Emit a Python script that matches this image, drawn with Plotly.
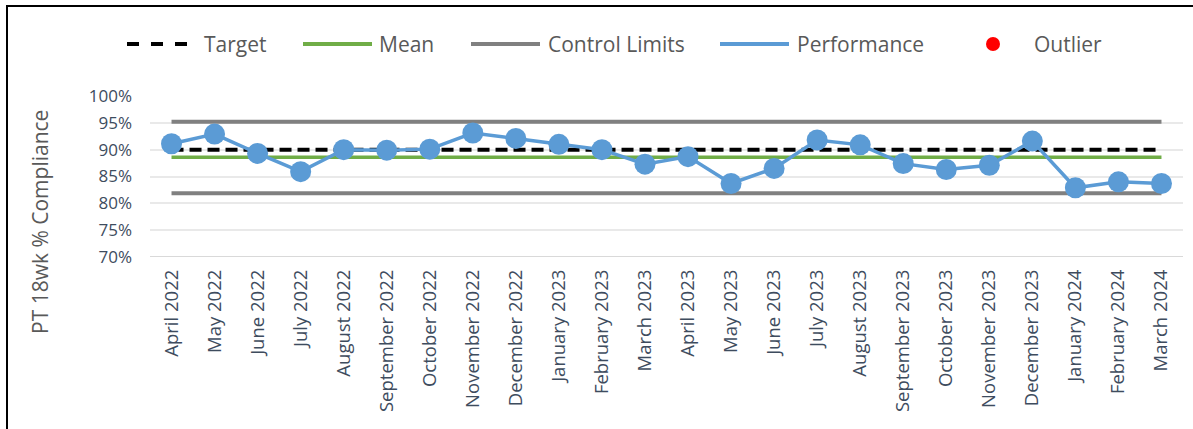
import plotly.graph_objects as go

# Monthly PT 18-week compliance (%)
months = [
    "April 2022", "May 2022", "June 2022", "July 2022", "August 2022",
    "September 2022", "October 2022", "November 2022", "December 2022",
    "January 2023", "February 2023", "March 2023", "April 2023", "May 2023",
    "June 2023", "July 2023", "August 2023", "September 2023", "October 2023",
    "November 2023", "December 2023", "January 2024", "February 2024", "March 2024",
]
performance = [
    91.1, 92.9, 89.3, 85.9, 90.0, 89.9, 90.1, 93.1, 92.1, 91.0, 90.0, 87.3,
    88.7, 83.7, 86.5, 91.8, 90.9, 87.4, 86.3, 87.1, 91.6, 82.9, 84.0, 83.7,
]
target = 90.0
mean = 88.6
upper_limit = 95.2
lower_limit = 81.9
outlier_months = []
outlier_values = []

y_ticks = [70, 75, 80, 85, 90, 95, 100]
y_tick_text = [f"{v}%" for v in y_ticks]

# Colours
C_TARGET = "#000000"
C_MEAN = "#70AD47"
C_LIMIT = "#808080"
C_PERF = "#5B9BD5"
C_OUT = "#FF0000"
C_TEXT = "#3E4C5E"
C_LEGEND = "#595959"
FONT = "Open Sans"

W, H = 1193, 429
L, R, T, B = 150, 10, 96, 172
PW, PH = W - L - R, H - T - B


def px(x):
    return (x - L) / PW


def py(y):
    return (H - B - y) / PH


fig = go.Figure()
n = len(months)
fig.add_trace(go.Scatter(x=months, y=[upper_limit] * n, mode="lines",
                         line=dict(color=C_LIMIT, width=4), showlegend=False, hoverinfo="skip"))
fig.add_trace(go.Scatter(x=months, y=[lower_limit] * n, mode="lines",
                         line=dict(color=C_LIMIT, width=4), showlegend=False, hoverinfo="skip"))
fig.add_trace(go.Scatter(x=months, y=[mean] * n, mode="lines",
                         line=dict(color=C_MEAN, width=3.5), showlegend=False, hoverinfo="skip"))
fig.add_trace(go.Scatter(x=months, y=[target] * n, mode="lines",
                         line=dict(color=C_TARGET, width=4, dash="12px,6px"),
                         showlegend=False, hoverinfo="skip"))
fig.add_trace(go.Scatter(x=months, y=performance, mode="lines+markers",
                         line=dict(color=C_PERF, width=3.5),
                         marker=dict(color=C_PERF, size=21),
                         showlegend=False))
fig.add_trace(go.Scatter(x=outlier_months, y=outlier_values, mode="markers",
                         marker=dict(color=C_OUT, size=21), showlegend=False))

# Legend row drawn along the top of the chart
legend_y = 44
legend_items = [
    ("Target", dict(color=C_TARGET, width=4, dash="dash"), 127, 197, 202),
    ("Mean", dict(color=C_MEAN, width=4), 303, 372, 377),
    ("Control Limits", dict(color=C_LIMIT, width=4), 471, 540, 546),
    ("Performance", dict(color=C_PERF, width=4), 720, 789, 795),
]
shapes = []
annotations = []
for label, line, x0, x1, tx in legend_items:
    shapes.append(dict(type="line", xref="paper", yref="paper",
                       x0=px(x0), x1=px(x1), y0=py(legend_y), y1=py(legend_y), line=line))
    annotations.append(dict(text=label, xref="paper", yref="paper", x=px(tx), y=py(legend_y),
                            xanchor="left", yanchor="middle", showarrow=False,
                            font=dict(family=FONT, size=21, color=C_LEGEND)))
shapes.append(dict(type="circle", xref="paper", yref="paper",
                   x0=px(986), x1=px(1000), y0=py(legend_y - 7), y1=py(legend_y + 7),
                   fillcolor=C_OUT, line=dict(width=0)))
annotations.append(dict(text="Outlier", xref="paper", yref="paper", x=px(1032), y=py(legend_y),
                        xanchor="left", yanchor="middle", showarrow=False,
                        font=dict(family=FONT, size=21, color=C_LEGEND)))

# Y-axis title
annotations.append(dict(text="PT 18wk % Compliance", xref="paper", yref="paper",
                        x=px(40), y=py(222), xanchor="center", yanchor="middle",
                        textangle=-90, showarrow=False,
                        font=dict(family=FONT, size=21, color=C_LEGEND)))

# Chart frame
shapes.append(dict(type="rect", xref="paper", yref="paper",
                   x0=px(7), x1=px(1215), y0=py(6), y1=py(450),
                   line=dict(color="#000000", width=2), fillcolor="rgba(0,0,0,0)", layer="below"))

fig.update_layout(
    width=W, height=H,
    margin=dict(l=L, r=R, t=T, b=B),
    paper_bgcolor="white", plot_bgcolor="white",
    font=dict(family=FONT, color=C_TEXT),
    shapes=shapes, annotations=annotations,
    showlegend=False,
)
fig.update_xaxes(
    type="category", range=[-0.5, n - 0.5],
    tickangle=-90, tickfont=dict(size=18.5, color=C_TEXT),
    showgrid=False, showline=False, zeroline=False, ticks="", ticklabelstandoff=8,
)
fig.update_yaxes(
    range=[70, 100], tickvals=y_ticks, ticktext=y_tick_text,
    tickfont=dict(size=17, color=C_TEXT),
    showgrid=True, gridcolor="#E9E9E9", gridwidth=1.5,
    zeroline=False, showline=False, ticks="", ticklabelstandoff=17,
)
# darker baseline along the bottom gridline
fig.add_hline(y=70, line=dict(color="#D9D9D9", width=2), layer="below")

fig.write_html("out.html")
